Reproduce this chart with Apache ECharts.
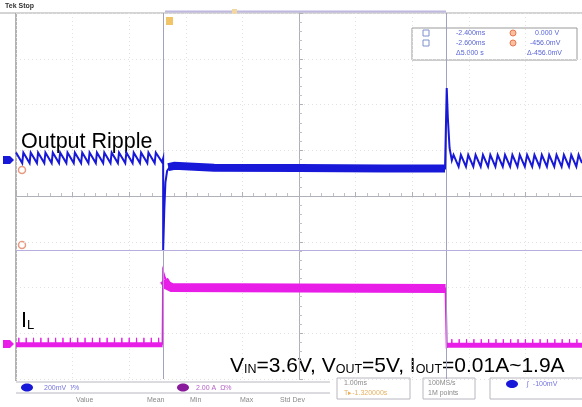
<!DOCTYPE html>
<html>
<head>
<meta charset="utf-8">
<script src="https://cdn.jsdelivr.net/npm/echarts@6/dist/echarts.min.js"></script>
<style>
  html, body { margin: 0; padding: 0; background: #fff; }
  #chart { width: 582px; height: 407px; }
</style>
</head>
<body>
<div id="chart"></div>
<script>
// time in ms (1.00 ms/div), amplitude in screen divisions

// CH1 output ripple (blue)
const bluePreRipple = [
  [-5.00, 0.95], [-4.89, 0.72], [-4.87, 0.95], [-4.76, 0.72], [-4.74, 0.95], [-4.63, 0.72],
  [-4.61, 0.95], [-4.50, 0.72], [-4.48, 0.95], [-4.37, 0.72], [-4.35, 0.95], [-4.24, 0.72],
  [-4.22, 0.95], [-4.11, 0.72], [-4.09, 0.95], [-3.98, 0.72], [-3.96, 0.95], [-3.85, 0.72],
  [-3.83, 0.95], [-3.72, 0.72], [-3.70, 0.95], [-3.59, 0.72], [-3.57, 0.95], [-3.46, 0.72],
  [-3.44, 0.95], [-3.33, 0.72], [-3.31, 0.95], [-3.20, 0.72], [-3.18, 0.95], [-3.07, 0.72],
  [-3.05, 0.95], [-2.94, 0.72], [-2.92, 0.95], [-2.81, 0.72], [-2.79, 0.95], [-2.68, 0.72],
  [-2.66, 0.95], [-2.55, 0.72], [-2.53, 0.95], [-2.42, 0.74]
];
const blueLoadStep = [
  [-2.40, 0.82], [-2.40, -1.18], [-2.38, -0.30], [-2.36, 0.30], [-2.33, 0.55], [-2.28, 0.64], [-2.22, 0.64]
];
const blueBand = [[-2.31, 0.63], [-2.20, 0.66], [-1.50, 0.62], [0.00, 0.61], [1.50, 0.60], [2.58, 0.60]];
const blueUnloadSpike = [[2.58, 0.60], [2.60, 0.62], [2.61, 2.36], [2.63, 1.70], [2.66, 1.05], [2.70, 0.78]];
const bluePostRipple = [
  [2.73, 0.90], [2.82, 0.64], [2.86, 0.90], [2.95, 0.64], [2.99, 0.90], [3.08, 0.64],
  [3.12, 0.90], [3.21, 0.64], [3.25, 0.90], [3.34, 0.64], [3.38, 0.90], [3.47, 0.64],
  [3.51, 0.90], [3.60, 0.64], [3.64, 0.90], [3.73, 0.64], [3.77, 0.90], [3.86, 0.64],
  [3.90, 0.90], [3.99, 0.64], [4.03, 0.90], [4.12, 0.64], [4.16, 0.90], [4.25, 0.64],
  [4.29, 0.90], [4.38, 0.64], [4.42, 0.90], [4.51, 0.64], [4.55, 0.90], [4.64, 0.64],
  [4.68, 0.90], [4.77, 0.64], [4.81, 0.90], [4.90, 0.64], [4.94, 0.90], [5.00, 0.72]
];

// CH2 inductor current (magenta)
const magLowPre = [[-5.00, -3.25], [-2.41, -3.25]];
const magStep = [[-2.41, -3.25], [-2.40, -1.66], [-2.37, -1.78], [-2.33, -1.92], [-2.27, -1.99], [-2.20, -2.00]];
const magHigh = [[-2.385, -1.84], [-2.33, -1.95], [-2.25, -2.00], [0.00, -2.01], [2.59, -2.02]];
const magRelease = [[2.59, -2.02], [2.61, -3.30], [2.66, -3.26]];
const magLowPost = [[2.61, -3.26], [5.00, -3.26]];
const magSpikeTimesPre = [-4.95, -4.82, -4.69, -4.56, -4.43, -4.30, -4.17, -4.04, -3.91, -3.78,
  -3.65, -3.52, -3.39, -3.26, -3.13, -3.00, -2.87, -2.74, -2.61, -2.48];
const magSpikeTimesPost = [2.70, 2.83, 2.96, 3.09, 3.22, 3.35, 3.48, 3.61, 3.74, 3.87,
  4.00, 4.13, 4.26, 4.39, 4.52, 4.65, 4.78, 4.91];
const magSpikeLevelPre = [-3.25, -3.10];
const magSpikeLevelPost = [-3.26, -3.13];

// cursors
const cursorTimes = [-2.40, 2.60];
const cursorLevel = -1.18;

const BLUE = '#1818d8';
const MAG = '#e81ee8';
const FONT = '"Liberation Sans", Arial, sans-serif';

function spikes(times, lv) {
  const out = [];
  times.forEach(t => {
    out.push([t - 0.006, lv[0]], [t, lv[1]], [t + 0.006, lv[0]]);
  });
  return out;
}

function line(name, data, color, width, z) {
  return {
    name, type: 'line', data, showSymbol: false, silent: true,
    lineStyle: { color, width, cap: 'butt', join: 'miter' }, z: z || 3
  };
}

function txt(x, y, text, size, fill, extra) {
  return Object.assign({
    type: 'text', silent: true,
    style: { x, y, text, fill, font: size + 'px ' + FONT, align: 'left', verticalAlign: 'middle' }
  }, extra || {});
}
function rect(x, y, w, h, stroke, fill) {
  return { type: 'rect', silent: true, shape: { x, y, width: w, height: h },
    style: { stroke, fill: fill || 'none', lineWidth: 1 } };
}
function hline(x1, x2, y, color, w) {
  return { type: 'line', silent: true, shape: { x1, y1: y, x2, y2: y }, style: { stroke: color, lineWidth: w || 1 } };
}

const chart = echarts.init(document.getElementById('chart'), null, { renderer: 'canvas' });

const series = [
  line('ch1', bluePreRipple.concat(blueLoadStep, blueUnloadSpike, bluePostRipple), BLUE, 2, 5),
  line('ch1band', blueBand, BLUE, 8, 5),
  line('ch2lowA', magLowPre, MAG, 5, 4),
  line('ch2lowB', magLowPost, MAG, 5, 4),
  line('ch2step', magStep.concat(magHigh.slice(2), magRelease), MAG, 2, 4),
  line('ch2high', magHigh, MAG, 9, 4),
  line('ch2spA', spikes(magSpikeTimesPre, magSpikeLevelPre), MAG, 1, 4),
  line('ch2spB', spikes(magSpikeTimesPost, magSpikeLevelPost), MAG, 1, 4)
];
series[0].markLine = {
  silent: true, symbol: 'none', label: { show: false },
  data: [
    { xAxis: cursorTimes[0], lineStyle: { color: '#a2a2bc', width: 1, type: 'solid' } },
    { xAxis: cursorTimes[1], lineStyle: { color: '#a2a2bc', width: 1, type: 'solid' } },
    { yAxis: cursorLevel, lineStyle: { color: '#b8aede', width: 1, type: 'solid' } }
  ]
};

const graphic = [
  // top strip
  { type: 'text', silent: true, style: { x: 5, y: 6, text: 'Tek Stop', fill: '#333', font: 'bold 7px ' + FONT, verticalAlign: 'middle' } },
  hline(0, 582, 13, '#a8a8a8', 1),
  hline(165, 446, 11.5, '#c0b8e0', 2),
  { type: 'rect', silent: true, shape: { x: 166, y: 17, width: 7, height: 8 }, style: { fill: '#f2c468' } },
  { type: 'rect', silent: true, shape: { x: 232, y: 9, width: 5, height: 5 }, style: { fill: '#f2d8a0' } },
  // left frame
  { type: 'line', silent: true, shape: { x1: 16, y1: 13, x2: 16, y2: 381 }, style: { stroke: '#9a9a9a', lineWidth: 1.5 } },
  // channel markers
  { type: 'polygon', silent: true, shape: { points: [[3, 156], [10, 156], [14, 160], [10, 164], [3, 164]] }, style: { fill: BLUE } },
  { type: 'polygon', silent: true, shape: { points: [[3, 340], [10, 340], [14, 344], [10, 348], [3, 348]] }, style: { fill: MAG } },
  { type: 'circle', silent: true, shape: { cx: 22, cy: 170, r: 3.5 }, style: { stroke: '#e89a80', fill: 'none', lineWidth: 1.5 } },
  { type: 'circle', silent: true, shape: { cx: 22, cy: 245, r: 3.5 }, style: { stroke: '#e89a80', fill: 'none', lineWidth: 1.5 } },

  // cursor readout
  rect(412, 28, 165, 32, '#9a9a9a', '#fff'),
  rect(423, 30, 6, 6, '#8090d0'),
  rect(423, 40, 6, 6, '#8090d0'),
  txt(456, 33, '-2.400ms', 7, '#5a66d8'),
  txt(456, 43, '-2.600ms', 7, '#5a66d8'),
  txt(456, 53, 'Δ5.000 s', 7, '#5a66d8'),
  { type: 'circle', silent: true, shape: { cx: 513, cy: 33, r: 3 }, style: { stroke: '#e87850', fill: '#f8c0a0', lineWidth: 1 } },
  { type: 'circle', silent: true, shape: { cx: 513, cy: 43, r: 3 }, style: { stroke: '#e87850', fill: '#f8c0a0', lineWidth: 1 } },
  txt(535, 33, '0.000 V', 7, '#5a66d8'),
  txt(530, 43, '-456.0mV', 7, '#5a66d8'),
  txt(527, 53, 'Δ-456.0mV', 7, '#5a66d8'),

  // annotations
  txt(21, 142, 'Output Ripple', 21.5, '#000'),
  {
    type: 'text', silent: true,
    style: {
      x: 21, y: 321, text: '{n|I}{s|L}', fill: '#000',
      rich: { n: { font: '21.5px ' + FONT, fill: '#000' }, s: { font: '13px ' + FONT, fill: '#000', verticalAlign: 'bottom' } },
      verticalAlign: 'middle'
    }
  },
  {
    type: 'text', silent: true,
    style: {
      x: 230, y: 366,
      text: '{n|V}{s|IN}{n|=3.6V, V}{s|OUT}{n|=5V, I}{s|OUT}{n|=0.01A~1.9A}',
      fill: '#000',
      rich: { n: { font: '21px ' + FONT, fill: '#000' }, s: { font: '12.5px ' + FONT, fill: '#000', verticalAlign: 'bottom' } },
      verticalAlign: 'middle'
    }
  },

  // bottom status bar
  hline(16, 330, 382, '#b8b8c0', 1),
  hline(16, 330, 393, '#b8b8c0', 1),
  { type: 'ellipse', silent: true, shape: { cx: 27, cy: 387.5, rx: 6, ry: 4 }, style: { fill: BLUE } },
  txt(44, 388, '200mV  ⅟%', 7, '#7474e0'),
  { type: 'ellipse', silent: true, shape: { cx: 183, cy: 387.5, rx: 6, ry: 4 }, style: { fill: '#8a1a9c' } },
  txt(196, 388, '2.00 A  Ω%', 7, '#b462c8'),
  txt(76, 400, 'Value', 7, '#8a8a8a'),
  txt(147, 400, 'Mean', 7, '#8a8a8a'),
  txt(190, 400, 'Min', 7, '#8a8a8a'),
  txt(240, 400, 'Max', 7, '#8a8a8a'),
  txt(280, 400, 'Std Dev', 7, '#8a8a8a'),
  rect(337, 378, 73, 21, '#b8b8c0'),
  txt(344, 383, '1.00ms', 7, '#8a8a8a'),
  txt(344, 393, 'T▸-1.320000s', 7, '#e8b060'),
  rect(423, 378, 52, 21, '#b8b8c0'),
  txt(428, 383, '100MS/s', 7, '#8a8a8a'),
  txt(428, 393, '1M points', 7, '#8a8a8a'),
  rect(490, 378, 95, 21, '#b8b8c0'),
  { type: 'ellipse', silent: true, shape: { cx: 512, cy: 384, rx: 6, ry: 4 }, style: { fill: BLUE } },
  txt(527, 384, '∫  -100mV', 7, '#7474e0')
];

chart.setOption({
  animation: false,
  backgroundColor: '#fff',
  grid: { left: 16, top: 13, right: 0, bottom: 28, containLabel: false },
  xAxis: {
    type: 'value', min: -5, max: 5, interval: 1,
    axisLine: { show: true, onZero: true, lineStyle: { color: '#b0b0b8', width: 1 } },
    axisTick: { show: true, inside: true, length: 4, lineStyle: { color: '#b0b0b8' } },
    minorTick: { show: true, splitNumber: 5, length: 3, lineStyle: { color: '#c0c0c8' } },
    axisLabel: { show: false },
    splitLine: { show: true, lineStyle: { color: '#e2e2e2', type: [1, 3] } }
  },
  yAxis: {
    type: 'value', min: -4, max: 4, interval: 1,
    axisLine: { show: true, onZero: true, lineStyle: { color: '#b0b0b8', width: 1 } },
    axisTick: { show: true, inside: true, length: 4, lineStyle: { color: '#b0b0b8' } },
    minorTick: { show: true, splitNumber: 5, length: 3, lineStyle: { color: '#c0c0c8' } },
    axisLabel: { show: false },
    splitLine: { show: true, lineStyle: { color: '#e2e2e2', type: [1, 3] } }
  },
  series,
  graphic
});
</script>
</body>
</html>
